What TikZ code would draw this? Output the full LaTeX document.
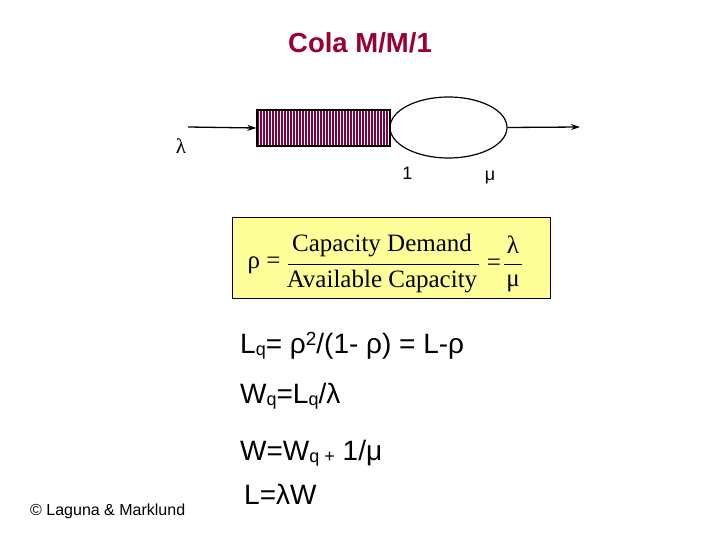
\documentclass[tikz,border=0pt]{standalone}
\usepackage{fontspec}
\setmainfont{Liberation Sans}
\newfontfamily\seriffont{Liberation Serif}
\usetikzlibrary{shapes.geometric,arrows.meta}
\definecolor{titlecol}{RGB}{153,0,51}
\definecolor{hatchcol}{RGB}{128,0,64}
\definecolor{boxyellow}{RGB}{255,255,153}
\newcommand{\sbq}[1]{{\fontsize{18}{18}\selectfont\raisebox{-2pt}{#1}}}
\begin{document}
\begin{tikzpicture}[x=1pt,y=-1pt,
  conn/.style={line width=1.3pt,-{Stealth[length=9pt,width=6pt]}},
  lbl/.style={inner sep=0pt,font=\fontsize{18}{18}\selectfont},
  eqline/.style={inner sep=0pt,anchor=base west,font=\fontsize{28}{28}\selectfont},
  fr/.style={inner sep=0pt,font=\seriffont\fontsize{25}{25}\selectfont}]
\useasboundingbox (0,0) rectangle (720,540);
\node[inner sep=0pt,text=titlecol,font=\bfseries\fontsize{27.5}{27.5}\selectfont] (title) at (360,43) {Cola M/M/1};
% queue
\node[draw,line width=1.2pt,fill=hatchcol,minimum width=133pt,minimum height=36pt,inner sep=0pt] (queue) at (323.5,128) {};
\foreach \x in {259.5,262.5,...,389} \draw[white,line width=1.4pt] (\x,110.6) -- (\x,145.4);
\draw[line width=1.2pt] (queue.south west) rectangle (queue.north east);
\node[draw,ellipse,line width=1.2pt,minimum width=117pt,minimum height=61pt,inner sep=0pt] (server) at (448.5,127.5) {};
\coordinate (in) at (188,127);
\coordinate (out) at (580,127);
\draw[conn] (in) -- (queue.west);
\draw[conn] (server.east) -- (out);
\node[inner sep=0pt,font=\seriffont\fontsize{21}{21}\selectfont] (lam) at (181,146) {λ};
\node[lbl] (one) at (407.5,173) {1};
\node[lbl] (mu) at (490,177) {μ};
% yellow box
\node[draw,fill=boxyellow,minimum width=318pt,minimum height=81pt,inner sep=0pt] (box) at (391,257.5) {};
\node[fr] (rho) at (264,265) {ρ =};
\node[fr] (num) at (382,246) {Capacity Demand};
\node[fr] (den) at (382,282) {Available Capacity};
\draw[line width=0.8pt] (288,264) coordinate (b1) -- (479,264) coordinate (b2);
\node[fr] (eq2) at (494,265) {=};
\node[fr] (lam2) at (513,245) {λ};
\node[fr] (mu2) at (513,283) {μ};
\draw[line width=0.8pt] (504,264) coordinate (c1) -- (522,264) coordinate (c2);
% equations
\node[eqline] (e1) at (240,353) {L\sbq{q}= ρ\raisebox{8pt}{\fontsize{19}{19}\selectfont 2}/(1- ρ) = L-ρ};
\node[eqline] (e2) at (240,403) {W\sbq{q}=L\sbq{q}/λ};
\node[eqline] (e3) at (240,460) {W=W\sbq{q +} 1/μ};
\node[eqline] (e4) at (244,504) {L=λW};
\node[inner sep=0pt,anchor=base west,font=\fontsize{16}{16}\selectfont] (copy) at (30,515) {© Laguna \& Marklund};
\end{tikzpicture}
\end{document}
